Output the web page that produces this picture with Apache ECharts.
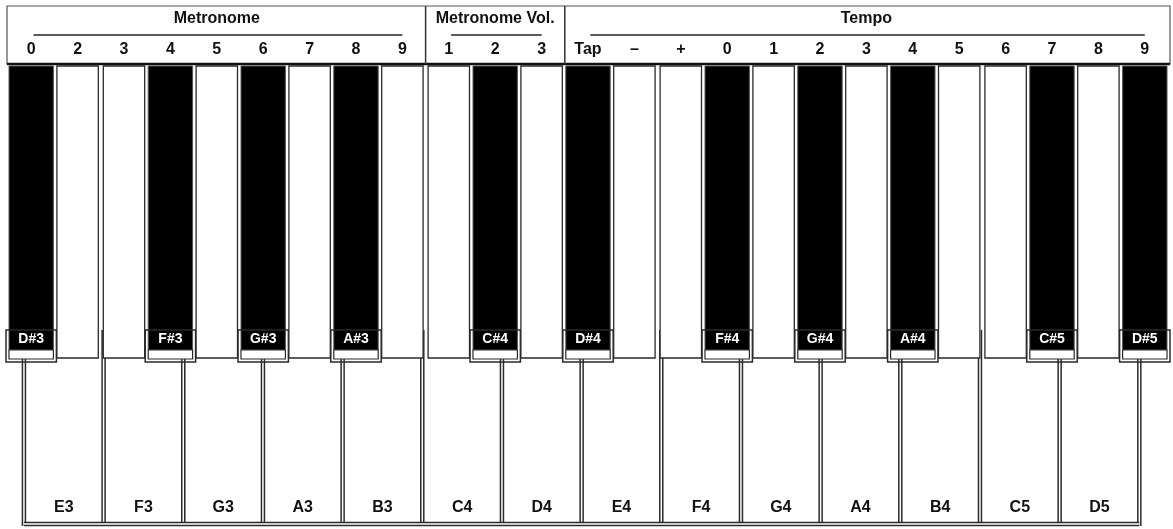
<!DOCTYPE html>
<html><head><meta charset="utf-8">
<script src="https://cdn.jsdelivr.net/npm/echarts@6/dist/echarts.min.js"></script>
<style>html,body{margin:0;padding:0;background:#fff}#c{width:1173px;height:529px}</style>
</head><body><div id="c"></div>
<script>
const colLabels = ['0','2','3','4','5','6','7','8','9','1','2','3','Tap','–','+','0','1','2','3','4','5','6','7','8','9'];
const colIsBlack = [1,0,0,1,0,1,0,1,0, 0,1,0, 1,0,0,1,0,1,0,1,0,0,1,0,1];
const sectionTitles = ['Metronome','Metronome Vol.','Tempo'];
const sectionStart = [0,9,12];
const sectionEnd = [9,12,25];
const whiteKeys = ['E3','F3','G3','A3','B3','C4','D4','E4','F4','G4','A4','B4','C5','D5'];
const blackKeys = ['D#3','F#3','G#3','A#3','C#4','D#4','F#4','G#4','A#4','C#5','D#5'];
const blackCols = [0,3,5,7,10,12,15,17,19,22,24];
const keyBoundaries = [0,1,2,3,4,5,6,7,8,9,10,11,12,13,14];

const FONT = '"Liberation Sans Narrow","Liberation Sans",Arial,sans-serif';
const DARK = '#2a2a2a';
const HEAD_TOP = 6, HEAD_BOT = 64, KEY_TOP = 66, BLACK_BOT = 350, LEDGE_BOT = 362, BOTTOM = 524;

const chart = echarts.init(document.getElementById('c'));

function dbl(x1,y1,x2,y2){
  return [
    {type:'line',shape:{x1,y1,x2,y2},style:{stroke:DARK,lineWidth:4.5}},
    {type:'line',shape:{x1,y1,x2,y2},style:{stroke:'#fff',lineWidth:1.5}}
  ];
}

const option = {
  animation:false,
  grid:{left:8,right:5,top:0,bottom:0},
  xAxis:[
    {type:'value',min:0,max:25,show:false},
    {type:'value',min:-0.2,max:14.36,show:false,gridIndex:0}
  ],
  yAxis:{type:'value',min:0,max:529,inverse:true,show:false},
  series:[
    // lower white keys
    {type:'custom',xAxisIndex:1,data:keyBoundaries.map(v=>[v]),renderItem:(p,api)=>{
      const x=api.coord([api.value(0),0])[0];
      const ch=dbl(x,330,x,BOTTOM+2);
      return {type:'group',children:ch};
    }},
    {type:'custom',xAxisIndex:1,data:[[0,14]],renderItem:(p,api)=>{
      const a=api.coord([api.value(0),0])[0], b=api.coord([api.value(1),0])[0];
      return {type:'group',children:dbl(a,BOTTOM,b,BOTTOM)};
    }},
    {type:'custom',xAxisIndex:1,data:whiteKeys.map((k,i)=>[i+0.5,k]),renderItem:(p,api)=>{
      const x=api.coord([api.value(0),0])[0];
      return {type:'text',x:x,y:508,style:{text:whiteKeys[p.dataIndex],font:'bold 16px '+FONT,fill:'#111',align:'center',verticalAlign:'middle'}};
    }},
    // upper columns
    {type:'custom',xAxisIndex:0,data:colIsBlack.map((b,i)=>[i,b]),renderItem:(p,api)=>{
      const i=api.value(0), b=api.value(1);
      const x0=api.coord([i,0])[0], x1=api.coord([i+1,0])[0];
      if(b){
        return {type:'group',children:[
          {type:'rect',shape:{x:x0+1,y:KEY_TOP,width:x1-x0-2,height:BLACK_BOT-KEY_TOP},style:{fill:'#000',stroke:'#555',lineWidth:1}},
          {type:'rect',shape:{x:x0-2,y:330,width:x1-x0+4,height:LEDGE_BOT-330},style:{fill:'none',stroke:DARK,lineWidth:1.5}},
          {type:'rect',shape:{x:x0+1,y:BLACK_BOT,width:x1-x0-2,height:LEDGE_BOT-BLACK_BOT-3},style:{fill:'#fff',stroke:DARK,lineWidth:1.2}}
        ]};
      }
      return {type:'rect',shape:{x:x0+2.5,y:KEY_TOP,width:x1-x0-5,height:LEDGE_BOT-KEY_TOP-4},style:{fill:'#fff',stroke:DARK,lineWidth:1.3}};
    }},
    {type:'custom',xAxisIndex:0,data:blackCols.map((c,i)=>[c+0.5,i]),renderItem:(p,api)=>{
      const x=api.coord([api.value(0),0])[0];
      return {type:'text',x:x,y:339,style:{text:blackKeys[p.dataIndex],font:'bold 14px '+FONT,fill:'#fff',align:'center',verticalAlign:'middle'}};
    }},
    // header
    {type:'custom',xAxisIndex:0,data:[[0,25]],renderItem:(p,api)=>{
      const a=api.coord([api.value(0),0])[0]-1, b=api.coord([api.value(1),0])[0]+2;
      return {type:'group',children:[
        {type:'rect',shape:{x:a,y:HEAD_TOP,width:b-a,height:HEAD_BOT-HEAD_TOP},style:{fill:'none',stroke:'#555',lineWidth:1.2}},
        {type:'line',shape:{x1:a,y1:HEAD_BOT,x2:b,y2:HEAD_BOT},style:{stroke:'#111',lineWidth:2.5}}
      ]};
    }},
    {type:'custom',xAxisIndex:0,data:sectionTitles.map((t,i)=>[sectionStart[i],sectionEnd[i]]),renderItem:(p,api)=>{
      const s=api.value(0), e=api.value(1);
      const a=api.coord([s,0])[0], b=api.coord([e,0])[0];
      const u0=api.coord([s+0.55,0])[0], u1=api.coord([e-0.5,0])[0];
      const ch=[
        {type:'text',x:(a+b)/2,y:19,style:{text:sectionTitles[p.dataIndex],font:'bold 16px '+FONT,fill:'#111',align:'center',verticalAlign:'middle'}},
        {type:'line',shape:{x1:u0,y1:35,x2:u1,y2:35},style:{stroke:'#222',lineWidth:1.5}}
      ];
      if(s>0) ch.push({type:'line',shape:{x1:a,y1:HEAD_TOP,x2:a,y2:HEAD_BOT},style:{stroke:'#333',lineWidth:1.5}});
      return {type:'group',children:ch};
    }},
    {type:'custom',xAxisIndex:0,data:colLabels.map((l,i)=>[i+0.5,i]),renderItem:(p,api)=>{
      const x=api.coord([api.value(0),0])[0];
      return {type:'text',x:x,y:50,style:{text:colLabels[p.dataIndex],font:'bold 16px '+FONT,fill:'#111',align:'center',verticalAlign:'middle'}};
    }}
  ]
};
chart.setOption(option);
</script></body></html>
